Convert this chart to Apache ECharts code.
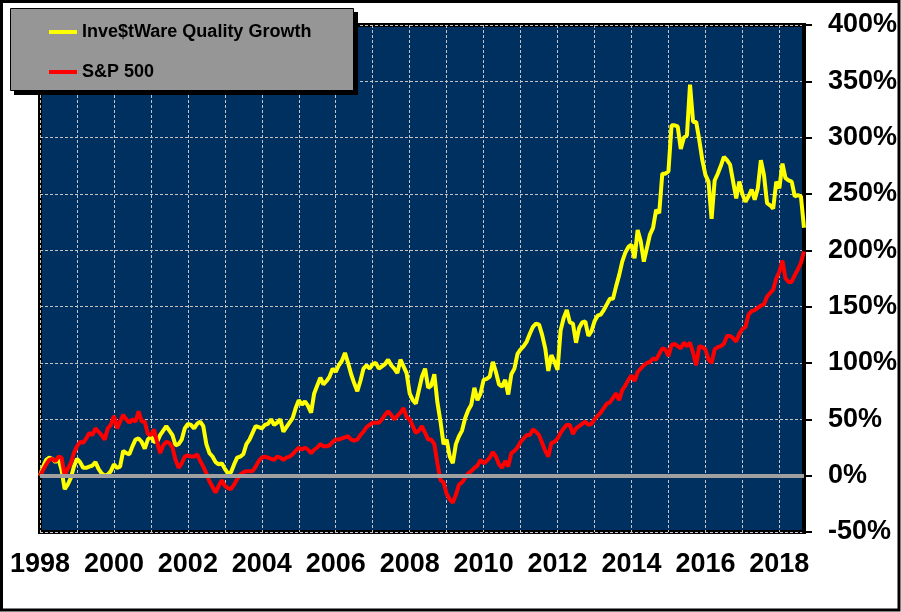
<!DOCTYPE html>
<html>
<head>
<meta charset="utf-8">
<title>Inve$tWare Quality Growth vs S&amp;P 500</title>
<script src="https://cdn.jsdelivr.net/npm/echarts@6/dist/echarts.min.js"></script>
<style>
  html, body { margin: 0; padding: 0; background: #fff; }
  #chart { width: 901px; height: 612px; }
</style>
</head>
<body>
<div id="chart"></div>
<script>
// monthly cumulative return (%), Jan 1998 .. Sep 2018
var startYear = 1998;
var seriesNames = ['Inve$tWare Quality Growth', 'S&P 500'];

var qualityGrowth = [
    0, 8, 14, 16, 15, 12, 15, 5, -12, -8, -2, 8,            // 1998
    15, 12, 7, 7, 8, 9, 12, 6, 2, 0, 1, 4,                  // 1999
    10, 7, 8, 22, 20, 19, 26, 32, 33, 30, 24, 32,           // 2000
    35, 30, 30, 36, 40, 44, 40, 36, 27, 28, 32, 42,         // 2001
    46, 45, 42, 46, 48, 44, 28, 20, 17, 12, 10, 11,         // 2002
    6, 2, 3, 10, 16, 17, 19, 28, 32, 38, 44, 43,            // 2003
    42, 45, 46, 50, 45, 47, 50, 39, 43, 47, 51, 60,         // 2004
    67, 63, 66, 62, 56, 73, 80, 87, 81, 84, 88, 95,         // 2005
    92, 98, 102, 109, 100, 90, 82, 75, 84, 95, 98, 95,      // 2006
    99, 100, 95, 97, 99, 103, 98, 95, 91, 103, 97, 91,      // 2007
    73, 67, 64, 76, 88, 95, 78, 80, 90, 65, 48, 28,         // 2008
    32, 17, 11, 28, 35, 40, 51, 58, 63, 78, 67, 73,         // 2009
    85, 86, 88, 101, 92, 81, 79, 85, 72, 90, 95, 108,       // 2010
    112, 115, 119, 126, 132, 135, 134, 125, 113, 93, 107, 101, // 2011
    94, 129, 140, 147, 136, 135, 118, 131, 136, 137, 124, 128, // 2012
    137, 142, 143, 147, 152, 157, 157, 168, 178, 190, 198, 203, // 2013
    205, 193, 218, 208, 190, 202, 214, 220, 236, 233, 268, 268, // 2014
    270, 311, 311, 310, 290, 300, 302, 347, 314, 314, 298, 280, // 2015
    267, 261, 228, 262, 268, 275, 283, 280, 276, 261, 246, 261, // 2016
    250, 243, 248, 254, 245, 255, 280, 267, 242, 240, 237, 261, // 2017
    255, 277, 264, 262, 261, 248, 249, 248, 220               // 2018
];

var sp500 = [
    0, 5, 10, 14, 15, 13, 17, 16, 0, 6, 11, 20,             // 1998
    26, 30, 29, 33, 38, 36, 42, 39, 36, 32, 42, 45,         // 1999
    53, 42, 48, 54, 50, 47, 50, 48, 57, 48, 48, 37,         // 2000
    36, 41, 30, 20, 27, 30, 29, 25, 14, 7, 11, 17,          // 2001
    18, 17, 17, 19, 13, 8, 2, -5, -10, -15, -9, -4,         // 2002
    -9, -11, -12, -8, -3, 1, 3, 4, 4, 4, 8, 13,             // 2003
    16, 17, 16, 15, 14, 17, 16, 14, 16, 17, 19, 22,         // 2004
    25, 23, 25, 23, 20, 23, 25, 28, 26, 26, 27, 30,         // 2005
    32, 32, 33, 34, 35, 32, 31, 32, 36, 39, 43, 45,         // 2006
    47, 47, 47, 50, 54, 57, 54, 50, 53, 56, 60, 52,         // 2007
    50, 44, 38, 40, 44, 38, 32, 32, 28, 11, -4, -6,         // 2008
    -16, -21, -24, -17, -8, -6, -2, 2, 4, 7, 9, 14,         // 2009
    11, 13, 16, 21, 17, 10, 7, 13, 8, 20, 22, 25,           // 2010
    30, 33, 36, 36, 41, 39, 36, 29, 22, 17, 29, 30,         // 2011
    33, 38, 42, 45, 45, 37, 42, 44, 46, 48, 45, 46,         // 2012
    50, 53, 56, 60, 64, 65, 69, 73, 67, 76, 80, 85,         // 2013
    89, 84, 92, 95, 98, 100, 101, 104, 103, 108, 113, 112,  // 2014
    106, 116, 117, 115, 113, 118, 115, 118, 109, 98, 115, 114, // 2015
    112, 103, 100, 112, 114, 115, 117, 124, 124, 122, 119, 126, // 2016
    130, 132, 143, 146, 147, 149, 151, 152, 159, 162, 165, 175, // 2017
    181, 191, 175, 172, 172, 178, 183, 189, 199               // 2018
];

var yTicks = { min: -50, max: 400, step: 50 };

function toPoints(values) {
    return values.map(function (v, i) {
        return [startYear + i / 12, v];
    });
}

var lastX = startYear + (qualityGrowth.length - 1) / 12;
var labelFont = 'Arial, "Liberation Sans", sans-serif';
var gridDash = { color: '#c4c4c4', width: 1, type: [3, 2] };

var chart = echarts.init(document.getElementById('chart'));

var option = {
    animation: false,
    backgroundColor: '#ffffff',
    grid: {
        show: true,
        left: 40,
        top: 25,
        right: 97,
        bottom: 80,
        backgroundColor: '#00305f',
        borderColor: '#000000',
        borderWidth: 4
    },
    legend: {
        orient: 'vertical',
        left: 44,
        top: 18,
        itemGap: 22,
        itemWidth: 28,
        itemHeight: 4,
        icon: 'rect',
        selectedMode: false,
        z: 20,
        data: seriesNames,
        textStyle: {
            color: '#000',
            fontSize: 18,
            fontWeight: 'bold',
            fontFamily: labelFont
        }
    },
    graphic: [
        // legend box with drop shadow
        { type: 'rect', z: 10, silent: true, shape: { x: 14, y: 12, width: 344, height: 83 }, style: { fill: '#000' } },
        { type: 'rect', z: 11, silent: true, shape: { x: 10.5, y: 8.5, width: 343, height: 82 }, style: { fill: '#969696', stroke: '#000', lineWidth: 1 } },
        // outer frame
        { type: 'rect', z: 30, silent: true, shape: { x: 1.5, y: 1.5, width: 897.5, height: 608.5 }, style: { fill: 'none', stroke: '#000', lineWidth: 3 } }
    ],
    xAxis: {
        type: 'value',
        min: startYear,
        max: lastX,
        interval: 1,
        axisLine: { show: false },
        axisTick: { show: false },
        splitLine: { show: true, lineStyle: gridDash },
        axisLabel: {
            margin: 19,
            color: '#000',
            fontSize: 27,
            fontWeight: 'bold',
            fontFamily: labelFont,
            showMaxLabel: false,
            formatter: function (v) {
                var y = Math.round(v);
                return (y - startYear) % 2 === 0 ? String(y) : '';
            }
        }
    },
    yAxis: {
        type: 'value',
        position: 'right',
        min: yTicks.min,
        max: yTicks.max,
        interval: yTicks.step,
        axisLine: { show: true, lineStyle: { color: '#000', width: 4 } },
        axisTick: { show: true, length: 8, lineStyle: { color: '#000', width: 2 } },
        splitLine: { show: true, lineStyle: gridDash },
        axisLabel: {
            margin: 24,
            color: '#000',
            fontSize: 27,
            fontWeight: 'bold',
            fontFamily: labelFont,
            formatter: '{value}%'
        }
    },
    series: [
        {
            // zero line
            type: 'line',
            data: [],
            z: 1,
            silent: true,
            markLine: {
                silent: true,
                symbol: ['none', 'none'],
                label: { show: false },
                lineStyle: { color: '#a0a0a0', width: 4, type: 'solid' },
                data: [{ yAxis: 0 }]
            }
        },
        {
            name: seriesNames[0],
            type: 'line',
            z: 3,
            showSymbol: false,
            data: toPoints(qualityGrowth),
            itemStyle: { color: '#ffff00' },
            lineStyle: { color: '#ffff00', width: 4 }
        },
        {
            name: seriesNames[1],
            type: 'line',
            z: 4,
            showSymbol: false,
            data: toPoints(sp500),
            itemStyle: { color: '#ff0000' },
            lineStyle: { color: '#ff0000', width: 4 }
        }
    ]
};

chart.setOption(option);
</script>
</body>
</html>
